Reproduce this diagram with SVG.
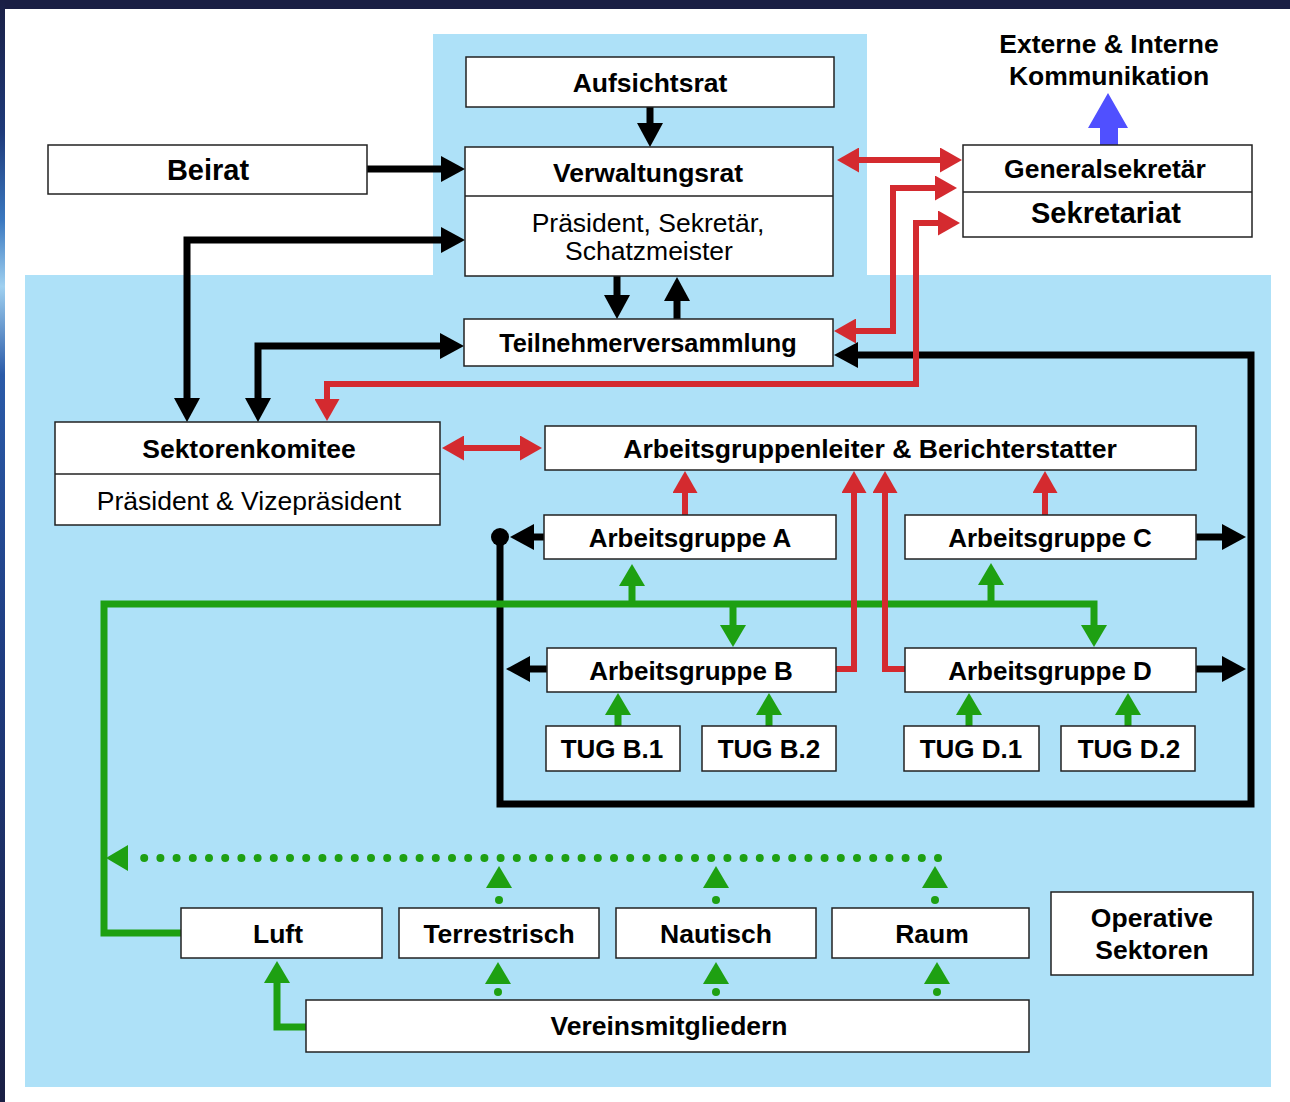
<svg xmlns="http://www.w3.org/2000/svg" width="1290" height="1102" viewBox="0 0 1290 1102">
<defs>
<linearGradient id="edge" x1="0" y1="0" x2="0" y2="1">
<stop offset="0" stop-color="#1a1f44"/>
<stop offset="0.12" stop-color="#1e3a7a"/>
<stop offset="0.2" stop-color="#3a78c0"/>
<stop offset="0.26" stop-color="#9fd0f0"/>
<stop offset="0.34" stop-color="#2a5aa8"/>
<stop offset="0.6" stop-color="#1e3c80"/>
<stop offset="1" stop-color="#1a1f44"/>
</linearGradient>
<marker id="hb" markerUnits="userSpaceOnUse" viewBox="0 0 24 26" refX="0" refY="13" markerWidth="24" markerHeight="26" orient="auto-start-reverse"><path d="M0,0 L24,13 L0,26 Z" fill="#000"/></marker>
<marker id="hr" markerUnits="userSpaceOnUse" viewBox="0 0 22 25" refX="0" refY="12.5" markerWidth="22" markerHeight="25" orient="auto-start-reverse"><path d="M0,0 L22,12.5 L0,25 Z" fill="#d42a2f"/></marker>
<marker id="hg" markerUnits="userSpaceOnUse" viewBox="0 0 22 26" refX="0" refY="13" markerWidth="22" markerHeight="26" orient="auto-start-reverse"><path d="M0,0 L22,13 L0,26 Z" fill="#1ea012"/></marker>
</defs>
<style>
.box{fill:#fff;stroke:#222;stroke-width:1.5}
.div{stroke:#222;stroke-width:1.5}
text{font-family:"Liberation Sans",Arial,sans-serif;fill:#000;text-anchor:middle}
.b{font-weight:bold;font-size:26.5px}
.r{font-size:26.5px}
.t{font-weight:bold;font-size:26px}
.blk{fill:none;stroke:#000;stroke-width:7;marker-end:url(#hb)}
.blk2{fill:none;stroke:#000;stroke-width:7;marker-start:url(#hb);marker-end:url(#hb)}
.loop{fill:none;stroke:#000;stroke-width:7;stroke-linejoin:miter}
.red{fill:none;stroke:#d42a2f;stroke-width:6;marker-end:url(#hr)}
.red2{fill:none;stroke:#d42a2f;stroke-width:6;marker-start:url(#hr);marker-end:url(#hr)}
.grn{fill:none;stroke:#1ea012;stroke-width:7;marker-end:url(#hg)}
.dot{fill:none;stroke:#1ea012;stroke-width:8;stroke-linecap:round;stroke-dasharray:0 16.2;marker-end:url(#hg)}
.dot1{fill:none;stroke:#1ea012;stroke-width:8;stroke-linecap:round;stroke-dasharray:0 40;marker-end:url(#hg)}
</style>
<rect x="0" y="0" width="1290" height="1102" fill="#1a1f44"/>
<rect x="0" y="0" width="5" height="1102" fill="url(#edge)"/>
<rect x="5" y="9" width="1285" height="1093" fill="#fff"/>
<rect x="433" y="34" width="434" height="242" fill="#aee1f8"/>
<rect x="25" y="275" width="1246" height="812" fill="#aee1f8"/>

<g id="connectors">
<path class="loop" d="M500,537 V804 H1251 V355 H858" marker-end="url(#hb)"/>
<circle cx="500" cy="537" r="9" fill="#000"/>
<path class="blk" d="M544,537 H534"/>
<path class="blk" d="M547,669 H530"/>
<path class="blk" d="M1196,537 H1222"/>
<path class="blk" d="M1196,669 H1222"/>
<path class="blk" d="M367,169 H441"/>
<path class="blk2" d="M441,240 H187 V398"/>
<path class="blk2" d="M440,346 H258 V398"/>
<path class="blk" d="M650,107 V123"/>
<path class="blk" d="M617,276 V295"/>
<path class="blk" d="M677,319 V301"/>

<path class="grn" d="M181,933 H104 V604 H1094 V625"/>
<path class="grn" d="M632,604 V586"/>
<path class="grn" d="M733,604 V625"/>
<path class="grn" d="M991,604 V585"/>
<path class="grn" d="M618,726 V715"/>
<path class="grn" d="M769,726 V715"/>
<path class="grn" d="M969,726 V715"/>
<path class="grn" d="M1128,726 V715"/>
<path class="grn" d="M306,1027 H277 V983"/>
<path class="dot" d="M938,858 H128"/>
<path class="dot1" d="M499,900 V888"/>
<path class="dot1" d="M716,900 V888"/>
<path class="dot1" d="M935,900 V888"/>
<path class="dot1" d="M498,992 V984"/>
<path class="dot1" d="M716,992 V984"/>
<path class="dot1" d="M937,992 V984"/>

<path class="red2" d="M859,160 H940"/>
<path class="red2" d="M856,331 H893 V188 H935"/>
<path class="red2" d="M938,223 H916 V384 H327 V399"/>
<path class="red2" d="M464,448 H520"/>
<path class="red" d="M685,515 V493"/>
<path class="red" d="M1045,515 V493"/>
<path class="red" d="M836,669 H854 V493"/>
<path class="red" d="M905,669 H885 V493"/>

<path d="M1100,145 V128 H1088 L1108,93 L1128,128 H1118 V145 Z" fill="#5050ff"/>
</g>

<g id="aufsichtsrat"><rect class="box" x="466" y="57" width="368" height="50"/><text class="b" x="650" y="92">Aufsichtsrat</text></g>
<g id="verwaltungsrat"><rect class="box" x="465" y="147" width="368" height="129"/><line class="div" x1="465" y1="196" x2="833" y2="196"/><text class="b" x="648" y="182">Verwaltungsrat</text><text class="r" x="648" y="232">Präsident, Sekretär,</text><text class="r" x="649" y="260">Schatzmeister</text></g>
<g id="teilnehmerversammlung"><rect class="box" x="464" y="319" width="369" height="47"/><text class="b" x="648" y="352" style="font-size:25.3px">Teilnehmerversammlung</text></g>
<g id="beirat"><rect class="box" x="48" y="145" width="319" height="49"/><text class="b" x="208" y="180" style="font-size:29px">Beirat</text></g>
<g id="kommunikation"><text class="b" x="1109" y="53">Externe &amp; Interne</text><text class="b" x="1109" y="85">Kommunikation</text></g>
<g id="generalsekretaer"><rect class="box" x="963" y="145" width="289" height="92"/><line class="div" x1="963" y1="192" x2="1252" y2="192"/><text class="b" x="1105" y="178">Generalsekretär</text><text class="b" x="1106" y="223" style="font-size:29px">Sekretariat</text></g>
<g id="sektorenkomitee"><rect class="box" x="55" y="422" width="385" height="103"/><line class="div" x1="55" y1="474" x2="440" y2="474"/><text class="b" x="249" y="458">Sektorenkomitee</text><text class="r" x="249" y="510">Präsident &amp; Vizepräsident</text></g>
<g id="arbeitsgruppenleiter"><rect class="box" x="545" y="426" width="651" height="44"/><text class="b" x="870" y="458" style="font-size:26.6px">Arbeitsgruppenleiter &amp; Berichterstatter</text></g>
<g id="ag-a"><rect class="box" x="544" y="515" width="292" height="44"/><text class="b" x="690" y="547" style="font-size:26px">Arbeitsgruppe A</text></g>
<g id="ag-c"><rect class="box" x="905" y="515" width="291" height="44"/><text class="b" x="1050" y="547" style="font-size:26px">Arbeitsgruppe C</text></g>
<g id="ag-b"><rect class="box" x="547" y="648" width="289" height="44"/><text class="b" x="691" y="680" style="font-size:26px">Arbeitsgruppe B</text></g>
<g id="ag-d"><rect class="box" x="905" y="648" width="291" height="44"/><text class="b" x="1050" y="680" style="font-size:26px">Arbeitsgruppe D</text></g>
<g id="tug-b1"><rect class="box" x="546" y="726" width="134" height="45"/><text class="t" x="612" y="758">TUG B.1</text></g>
<g id="tug-b2"><rect class="box" x="702" y="726" width="134" height="45"/><text class="t" x="769" y="758">TUG B.2</text></g>
<g id="tug-d1"><rect class="box" x="904" y="726" width="135" height="45"/><text class="t" x="971" y="758">TUG D.1</text></g>
<g id="tug-d2"><rect class="box" x="1061" y="726" width="134" height="45"/><text class="t" x="1129" y="758">TUG D.2</text></g>
<g id="luft"><rect class="box" x="181" y="908" width="201" height="50"/><text class="b" x="278" y="943">Luft</text></g>
<g id="terrestrisch"><rect class="box" x="399" y="908" width="200" height="50"/><text class="b" x="499" y="943">Terrestrisch</text></g>
<g id="nautisch"><rect class="box" x="616" y="908" width="200" height="50"/><text class="b" x="716" y="943">Nautisch</text></g>
<g id="raum"><rect class="box" x="832" y="908" width="197" height="50"/><text class="b" x="932" y="943">Raum</text></g>
<g id="operative"><rect class="box" x="1051" y="892" width="202" height="83"/><text class="b" x="1152" y="927">Operative</text><text class="b" x="1152" y="959">Sektoren</text></g>
<g id="vereinsmitgliedern"><rect class="box" x="306" y="1000" width="723" height="52"/><text class="b" x="669" y="1035">Vereinsmitgliedern</text></g>
</svg>
